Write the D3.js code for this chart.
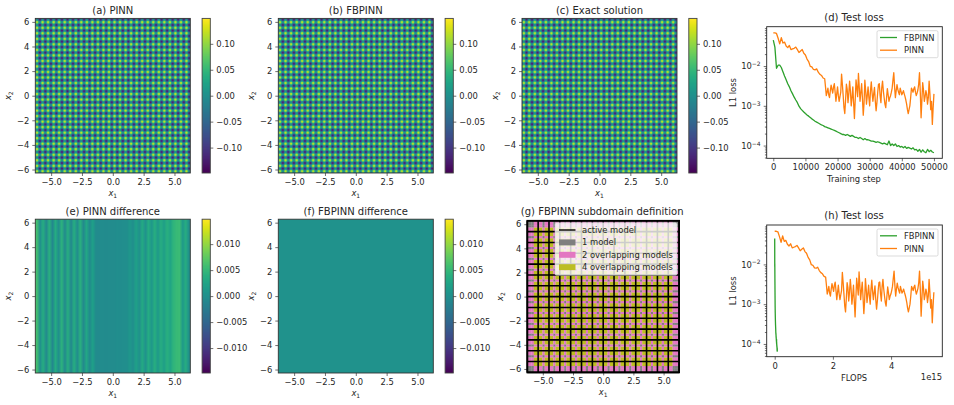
<!DOCTYPE html>
<html><head><meta charset="utf-8">
<script src="https://cdn.jsdelivr.net/npm/d3@7"></script>
<style>
html,body{margin:0;padding:0;background:#fff}
svg{display:block}
text{font-family:"DejaVu Sans",sans-serif;fill:#262626}
</style></head><body>
<script>
// ---- data ----
const wavePeriods = 28;
const waveProfile = [0.005, 0.05, 0.062, 0.05, -0.005, -0.05, -0.062, -0.05];
const pinnStripes = [.0060,-.0002,.0036,-.0008,.0040,-.0010,.0034,-.0002,.0042,-.0006,.0038,-.0010,.0036,-.0004,.0040,-.0008,.0028,-.0006,.0020,-.0006,
  -.0006,-.0004,-.0006,-.0005,-.0004,-.0005,-.0003,-.0004,-.0002,-.0003,
  .0010,-.0002,.0020,.0000,.0032,.0004,.0034,.0010,.0038,.0012,.0036,.0018,.0040,.0026,.0044,.0052,.0054,.0012,.0036,.0000];
const fbpinnStripes = [.0003,.0002,.0003,.0002,.0002,.0003,.0002,.0002,.0003,.0002];
const heatTicks = [-5,-2.5,0,2.5,5];
const heatYTicks = [-6,-4,-2,0,2,4,6];
const cbTicksLarge = [-0.10,-0.05,0,0.05,0.10];
const cbTicksSmall = [-0.010,-0.005,0,0.005,0.010];
const subdomainCount = 14;
const overlapShare = 0.4;
const modelColors = {1:"#7f7f7f",2:"#e377c2",4:"#bcbd22"};
const legendG = ["active model","1 model","2 overlapping models","4 overlapping models"];
const fbpinnLoss = [.045,.03,.0088,.0105,.0105,.0092,.0072,.0056,.0045,.0036,.0030,.0024,.0020,.00165,.0014,.0012,.00098,.00085,.00077,.00070,
  .00064,.00059,.00055,.00051,.00047,.00044,.00041,.00039,.00037,.00035,.00033,.00032,.00030,.00029,.00028,.00027,.00026,.00025,.00024,.00023,
  .00022,.00021,.00020,.00019,.00019,.00018,.00019,.00018,.00017,.00018,.00017,.00016,.00016,.00015,.00016,.00015,.00014,.00015,.00014,.00014,
  .000135,.00013,.00013,.000125,.00012,.000125,.00012,.000115,.00011,.000115,.00011,.000105,.00013,.0001,.00011,.0001,.00011,.000095,.0001,.000092,
  .000095,.000088,.000095,.000085,.00009,.000086,.000082,.000088,.000078,.00008,.000072,.00008,.000068,.000078,.00007,.000066,.00008,.00007,.000076,.000069,.000066];
const fbpinnSteps = d3.range(0,50001,500);
const pinnEarly = [.068,.068,.066,.05,.036,.052,.038,.04,.032,.029,.033,.026,.027,.028,.030,.026,.022,.024,.026,.021,
  .019,.015,.013,.0098,.0095,.0082,.0080,.0085,.0070,.0062,.0058,.0050];
const pinnLate = [.0048,.0030,.0018,.0022,.0028,.0019,.0016,.0024,.0033,.0026,.0021,.0030,.0036,.0022,.0013,.0020,.0030,.0018,.0013,.0017,.0022,
  .0063,.0035,.0018,.0009,.00064,.0014,.0035,.0026,.0012,.0020,.0042,.0024,.0010,.0016,.0030,.0012,
  .00048,.0014,.0045,.0028,.0017,
  .0065,.0030,.0013,.0022,.0036,.0015,
  .00058,.0012,.0044,.0024,.0011,.0018,.0030,.0016,.0010,.0024,.0040,.0021,.0013,.0020,.0029,.0013,.00075,.0012,.0022,.0035,.0036,.0018,.0012,.0028,.0042,.0024,.0016,.0011,.0009,.0016,.0027,.0019,.0013,.0016,.0018,.0022,.0028,.0045,
  .0068,.0030,.0016,.0024,.0034,.0026,.0022,.0019,.0028,.0023,.0019,.0021,.0024,.0020,.0017,.0014,.0011,.0008,
  .00064,.0008,.0010,.0016,.0028,.0025,.0022,.0027,.0030,.0022,.0018,.0021,.0025,.0035,
  .0068,.0022,
  .0005,.0014,.0038,.0025,.0013,.0017,.0024,.0019,.0011,.0016,.0042,.0020,.0008,.0013,
  .00034,.0009,.0020];
const pinnLoss = pinnEarly.concat(pinnLate);
const pinnSteps = d3.range(0,16000,500).concat(d3.range(16000,50001,250));
const flopsPerStepPinn = 5.47e15/50000;
const flopsPerStepFb = 0.09e15/50000;
const stepTicks = [0,10000,20000,30000,40000,50000];
const flopsTicks = [0,2,4];
const logMajor = [1e-4,1e-3,1e-2];
const logMinor = [5e-5,6e-5,7e-5,8e-5,9e-5,2e-4,3e-4,4e-4,5e-4,6e-4,7e-4,8e-4,9e-4,2e-3,3e-3,4e-3,5e-3,6e-3,7e-3,8e-3,9e-3,2e-2,3e-2,4e-2,5e-2,6e-2,7e-2,8e-2,9e-2];
const lossNames = ["FBPINN","PINN"];
const lossColors = ["#2ca02c","#ff7f0e"];

// ---- helpers ----
const W=954,H=405, L=2*Math.PI;
const svg=d3.select("body").append("svg").attr("width",W).attr("height",H).attr("viewBox",`0 0 ${W} ${H}`);
const FS=8.4, TFS=10;
const viridisScale=(d)=>d3.scaleSequential(d3.interpolateViridis).domain([-d,d]);

function styleAxis(g){
  g.selectAll("path.domain").remove();
  g.selectAll("line").attr("stroke","#333").attr("stroke-width",.7);
  g.selectAll("text").attr("font-size",FS).attr("font-family","DejaVu Sans").attr("fill","#262626");
}
const mathLabel=(g,base,sub)=>{
  g.append("tspan").attr("font-style","italic").text(base);
  g.append("tspan").attr("font-size",6).attr("dy",1.8).text(sub);
};
const minus=s=>s.replace("-","\u2212");

function heatAxes(box){
  const x=d3.scaleLinear().domain([-L,L]).range([box.x,box.x+box.w]);
  const y=d3.scaleLinear().domain([-L,L]).range([box.y+box.h,box.y]);
  svg.append("g").attr("transform",`translate(0,${box.y+box.h})`)
    .call(d3.axisBottom(x).tickValues(heatTicks).tickSize(3).tickPadding(3).tickFormat(d=>minus(d3.format(".1f")(d)))).call(styleAxis);
  svg.append("g").attr("transform",`translate(${box.x},0)`)
    .call(d3.axisLeft(y).tickValues(heatYTicks).tickSize(3).tickPadding(3).tickFormat(d=>minus(String(d)))).call(styleAxis);
  const xl=svg.append("text").attr("x",box.x+box.w/2).attr("y",box.y+box.h+23).attr("text-anchor","middle").attr("font-size",FS);
  mathLabel(xl,"x","1");
  const yl=svg.append("text").attr("transform",`translate(${box.x-24},${box.y+box.h/2}) rotate(-90)`).attr("text-anchor","middle").attr("font-size",FS);
  mathLabel(yl,"x","2");
  return {x,y};
}
function title(t,cx,y){svg.append("text").attr("x",cx).attr("y",y).attr("text-anchor","middle").attr("font-size",TFS).text(t);}
function frame(box,c,w){svg.append("rect").attr("x",box.x).attr("y",box.y).attr("width",box.w).attr("height",box.h).attr("fill","none").attr("stroke",c||"#333").attr("stroke-width",w||.9);}

function drawField(box,nx,ny,valueAt,color){
  const c=d3.create("canvas").attr("width",nx).attr("height",ny).node(), ctx=c.getContext("2d");
  const img=ctx.createImageData(nx,ny);
  for(let j=0;j<ny;j++)for(let i=0;i<nx;i++){
    const rgb=d3.rgb(color(valueAt(i,j))),k=(j*nx+i)*4;
    img.data[k]=rgb.r;img.data[k+1]=rgb.g;img.data[k+2]=rgb.b;img.data[k+3]=255;
  }
  ctx.putImageData(img,0,0);
  svg.append("image").attr("x",box.x).attr("y",box.y).attr("width",box.w).attr("height",box.h)
    .attr("preserveAspectRatio","none").attr("href",c.toDataURL());
}
function colorbar(box,dom,ticks,fmt){
  const col=viridisScale(dom);
  const levels=d3.range(256).map(i=>dom-(i+.5)*2*dom/256);
  drawField(box,1,256,(i,j)=>levels[j],col);
  frame(box,"#444");
  const y=d3.scaleLinear().domain([-dom,dom]).range([box.y+box.h,box.y]);
  svg.append("g").attr("transform",`translate(${box.x+box.w},0)`)
    .call(d3.axisRight(y).tickValues(ticks).tickSize(3).tickPadding(3).tickFormat(d=>minus(d3.format(fmt)(d)))).call(styleAxis);
}

// ---- wave panels ----
const nWave=wavePeriods*waveProfile.length;
const waveAt=(i,j)=>waveProfile[i%waveProfile.length]+waveProfile[(nWave-1-j)%waveProfile.length];
const topBoxes=[{x:35.3,w:155,t:"(a) PINN"},{x:278.3,w:155,t:"(b) FBPINN"},{x:522,w:155,t:"(c) Exact solution"}];
topBoxes.forEach(b=>{
  const box={x:b.x,y:18.4,w:b.w,h:154.6};
  drawField(box,nWave,nWave,waveAt,viridisScale(.149));
  frame(box);
  heatAxes(box);
  title(b.t,box.x+box.w/2,14);
  colorbar({x:box.x+166.8,y:box.y,w:8.2,h:box.h},.149,cbTicksLarge,".2f");
});

// ---- difference panels ----
[[35.3,"(e) PINN difference",pinnStripes],[278.3,"(f) FBPINN difference",fbpinnStripes]].forEach(([x0,t,vals])=>{
  const box={x:x0,y:219.2,w:155,h:153.8};
  drawField(box,vals.length,1,(i)=>vals[i],viridisScale(.0148));
  frame(box);
  heatAxes(box);
  title(t,box.x+box.w/2,215);
  colorbar({x:box.x+166.8,y:box.y,w:8.2,h:box.h},.0148,cbTicksSmall,".3f");
});

// ---- subdomain panel ----
(function(){
  const box={x:527.3,y:220.8,w:151.8,h:151.6};
  const {x,y}=heatAxes(box);
  const edges=d3.range(subdomainCount+1).map(i=>-L+i*2*L/subdomainCount);
  const size=2*L/subdomainCount, ov=size*overlapShare;
  const zones=[];
  edges.slice(0,-1).forEach((e,i)=>{
    zones.push([e,e+ov,i===0?1:2]);
    zones.push([e+ov,e+size-ov,1]);
    zones.push([e+size-ov,e+size,i===subdomainCount-1?1:2]);
  });
  const cells=zones.flatMap(a=>zones.map(b=>({a,b,n:a[2]*b[2]})));
  svg.append("g").selectAll("rect").data(cells).join("rect")
    .attr("x",d=>x(d.a[0])).attr("width",d=>x(d.a[1])-x(d.a[0])+.15)
    .attr("y",d=>y(d.b[1])).attr("height",d=>y(d.b[0])-y(d.b[1])+.15)
    .attr("fill",d=>modelColors[d.n]);
  const lines=svg.append("g").attr("stroke","#000").attr("stroke-width",1.6);
  lines.selectAll("line.v").data(edges).join("line").attr("class","v").attr("x1",d=>x(d)).attr("x2",d=>x(d)).attr("y1",box.y).attr("y2",box.y+box.h);
  lines.selectAll("line.h").data(edges).join("line").attr("class","h").attr("y1",d=>y(d)).attr("y2",d=>y(d)).attr("x1",box.x).attr("x2",box.x+box.w);
  frame(box,"#000",1.8);
  title("(g) FBPINN subdomain definition",box.x+box.w/2-1,215);
  const lg=svg.append("g");
  lg.append("rect").attr("x",555).attr("y",222.7).attr("width",122).attr("height",52.5).attr("rx",1.5).attr("fill","#fff").attr("fill-opacity",.8).attr("stroke","#ccc").attr("stroke-opacity",.8).attr("stroke-width",.7);
  legendG.forEach((t,i)=>{
    const cy=230+i*12.4;
    if(i===0) lg.append("line").attr("x1",559).attr("x2",575.5).attr("y1",cy).attr("y2",cy).attr("stroke","#000").attr("stroke-width",1.4);
    else lg.append("rect").attr("x",559).attr("y",cy-3).attr("width",16.5).attr("height",6).attr("fill",modelColors[[0,1,2,4][i]]);
    lg.append("text").attr("x",582).attr("y",cy+3).attr("font-size",FS).text(t);
  });
})();

// ---- loss panels ----
function lossPanel(o){
  const {box,xDomain,xTicks,xFmt,ttl,xl,rate}=o;
  const x=d3.scaleLinear().domain(xDomain).range([box.x,box.x+box.w]);
  const y=d3.scaleLog().domain(o.yDomain).range([box.y+box.h,box.y]);
  svg.append("g").attr("transform",`translate(0,${box.y+box.h})`)
    .call(d3.axisBottom(x).tickValues(xTicks).tickSize(3).tickPadding(3).tickFormat(xFmt)).call(styleAxis);
  const ya=svg.append("g").attr("transform",`translate(${box.x},0)`)
    .call(d3.axisLeft(y).tickValues(logMajor).tickSize(3).tickPadding(3)).call(styleAxis);
  ya.selectAll(".tick text").each(function(d){
    const s=d3.select(this).text("").attr("dy",".32em");
    s.append("tspan").text("10");
    s.append("tspan").attr("font-size",6).attr("dy",-3.2).text("\u2212"+Math.round(-Math.log10(d)));
  });
  svg.append("g").attr("transform",`translate(${box.x},0)`)
    .call(d3.axisLeft(y).tickValues(logMinor.filter(v=>y(v)>box.y&&y(v)<box.y+box.h)).tickSize(1.8).tickFormat("")).call(styleAxis);
  [[fbpinnSteps,fbpinnLoss],[pinnSteps,pinnLoss]].forEach(([steps,vals],k)=>{
    const line=d3.line().x((d,i)=>x(steps[i]*rate[k])).y(d=>y(d));
    svg.append("path").datum(vals).attr("fill","none").attr("stroke",lossColors[k]).attr("stroke-width",1.3).attr("stroke-linejoin","round").attr("d",line);
  });
  frame(box,"#222",.9);
  title(ttl,box.x+box.w/2-.5,box.y-5.7);
  svg.append("text").attr("x",box.x+box.w/2-.5).attr("y",o.xlY).attr("text-anchor","middle").attr("font-size",FS).text(xl);
  svg.append("text").attr("transform",`translate(736,${box.y+box.h/2}) rotate(-90)`).attr("text-anchor","middle").attr("font-size",FS).text("L1 loss");
  const lg=svg.append("g");
  lg.append("rect").attr("x",877).attr("y",box.y+4).attr("width",61).attr("height",27).attr("rx",1.5).attr("fill","#fff").attr("fill-opacity",.8).attr("stroke","#ccc").attr("stroke-width",.7);
  lossNames.forEach((t,i)=>{
    const cy=box.y+10.8+i*12.7;
    lg.append("line").attr("x1",880).attr("x2",897).attr("y1",cy).attr("y2",cy).attr("stroke",lossColors[i]).attr("stroke-width",1.3);
    lg.append("text").attr("x",904).attr("y",cy+3).attr("font-size",FS).text(t);
  });
}
lossPanel({box:{x:766.7,y:26.7,w:175.6,h:131.6},xDomain:[-2050,52600],yDomain:[10**-4.32,10**-1.01],xTicks:stepTicks,xFmt:d3.format("d"),ttl:"(d) Test loss",xl:"Training step",xlY:182,rate:[1,1]});
lossPanel({box:{x:766.7,y:225,w:175.6,h:131.7},xDomain:[-.275e15,5.76e15],yDomain:[10**-4.32,10**-1.01],xTicks:flopsTicks.map(v=>v*1e15),xFmt:d=>String(d/1e15),ttl:"(h) Test loss",xl:"FLOPS",xlY:381,rate:[flopsPerStepFb,flopsPerStepPinn]});
svg.append("text").attr("x",942).attr("y",380).attr("text-anchor","end").attr("font-size",FS).text("1e15");
</script>
</body></html>
